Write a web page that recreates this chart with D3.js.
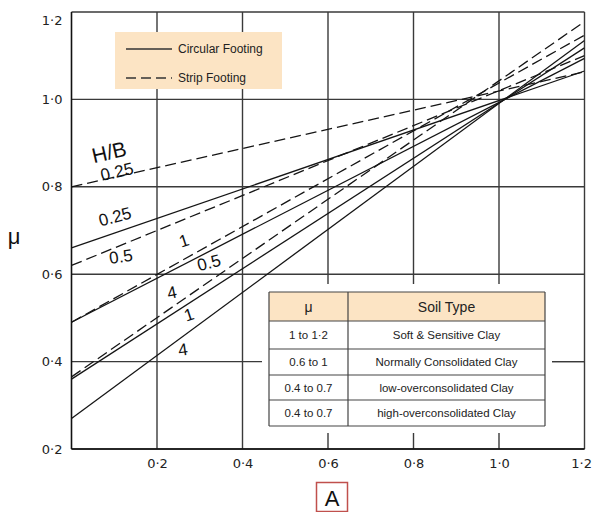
<!DOCTYPE html>
<html>
<head>
<meta charset="utf-8">
<script src="https://cdn.jsdelivr.net/npm/d3@7/dist/d3.min.js"></script>
<style>
  html, body { margin: 0; padding: 0; background: #fff; }
  svg { display: block; font-family: "Liberation Sans", Arial, sans-serif; }
</style>
</head>
<body>
<svg id="chart" width="592" height="512"></svg>
<script>
// Settlement correction factor μ against pore-pressure coefficient A
const aEnds = [0, 1.2];                       // A at the two ends of every line
const hbRatios = ["0.25", "0.5", "1", "4"];   // H/B values
const circularMu = [                          // μ at A = 0 and A = 1.2
  [0.66, 1.065],
  [0.49, 1.094],
  [0.36, 1.118],
  [0.27, 1.135]
];
const stripMu = [
  [0.80, 1.063],
  [0.62, 1.100],
  [0.49, 1.147],
  [0.365, 1.178]
];
const xTicks = [0.2, 0.4, 0.6, 0.8, 1.0, 1.2];
const yTicks = [0.2, 0.4, 0.6, 0.8, 1.0, 1.2];
const tickText = v => v.toFixed(1).replace(".", "·");

const soilMu = ["1 to 1·2", "0.6 to 1", "0.4 to 0.7", "0.4 to 0.7"];
const soilType = ["Soft & Sensitive Clay", "Normally Consolidated Clay",
                  "low-overconsolidated Clay", "high-overconsolidated Clay"];

const svg = d3.select("#chart");
const x = d3.scaleLinear().domain([0, 1.2]).range([71.5, 584.5]);
const y = d3.scaleLinear().domain([0.2, 1.2]).range([449, 12]);

const gridColor = "#3a3a3a";

// grid
const grid = svg.append("g").attr("stroke", gridColor).attr("stroke-width", 1.4);
grid.selectAll("line.v").data(xTicks).join("line")
  .attr("x1", d => x(d)).attr("x2", d => x(d))
  .attr("y1", y(0.2)).attr("y2", y(1.2));
grid.selectAll("line.h").data(yTicks).join("line")
  .attr("x1", x(0)).attr("x2", x(1.2))
  .attr("y1", d => y(d)).attr("y2", d => y(d));
grid.append("line").attr("x1", x(0)).attr("x2", x(0)).attr("y1", y(0.2)).attr("y2", y(1.2))
  .attr("stroke", "#111").attr("stroke-width", 1.6);
grid.append("line").attr("x1", x(0)).attr("x2", x(1.2)).attr("y1", y(0.2)).attr("y2", y(0.2))
  .attr("stroke", "#111").attr("stroke-width", 1.6);

// axes (labels only)
const xAxis = svg.append("g").attr("transform", `translate(0,${y(0.2)})`)
  .call(d3.axisBottom(x).tickValues(xTicks).tickSize(0).tickPadding(10).tickFormat(tickText));
const yAxis = svg.append("g").attr("transform", `translate(${x(0)},0)`)
  .call(d3.axisLeft(y).tickValues(yTicks).tickSize(0).tickPadding(9).tickFormat(tickText));
[xAxis, yAxis].forEach(g => {
  g.select(".domain").remove();
  g.selectAll("text").attr("fill", "#222")
    .attr("font-family", "'DejaVu Sans', sans-serif").attr("font-size", 13);
});
yAxis.selectAll(".tick").filter(d => d === 1.2).select("text").attr("dy", "0.95em");
// keep the last x label inside the page
xAxis.selectAll(".tick").filter(d => d === 1.2).select("text")
  .attr("text-anchor", "end").attr("x", 7);

// lines
const defs = svg.append("defs");
defs.append("clipPath").attr("id", "plot").append("rect")
  .attr("x", x(0)).attr("y", y(1.2)).attr("width", x(1.2) - x(0)).attr("height", y(0.2) - y(1.2));
const line = d3.line().x(d => x(d[0])).y(d => y(d[1]));
const lines = svg.append("g").attr("clip-path", "url(#plot)").attr("fill", "none")
  .attr("stroke", "#151515").attr("stroke-width", 1.3);
lines.selectAll("path.c").data(circularMu).join("path")
  .attr("d", d => line(aEnds.map((a, i) => [a, d[i]])));
lines.selectAll("path.s").data(stripMu).join("path")
  .attr("stroke-dasharray", "11,5")
  .attr("d", d => line(aEnds.map((a, i) => [a, d[i]])));

// legend
const lg = svg.append("g");
lg.append("rect").attr("x", 115).attr("y", 32).attr("width", 167).attr("height", 57).attr("fill", "#fce4c4");
lg.append("line").attr("x1", 126).attr("x2", 172).attr("y1", 49).attr("y2", 49)
  .attr("stroke", "#333").attr("stroke-width", 1.3);
lg.append("line").attr("x1", 126).attr("x2", 172).attr("y1", 78).attr("y2", 78)
  .attr("stroke", "#333").attr("stroke-width", 1.3).attr("stroke-dasharray", "10,5");
lg.append("text").attr("x", 178).attr("y", 53).attr("font-size", 12).attr("fill", "#222").text("Circular Footing");
lg.append("text").attr("x", 178).attr("y", 82).attr("font-size", 12).attr("fill", "#222").text("Strip Footing");

// H/B labels along the lines
const labels = [
  { t: "H/B", cx: 109, cy: 152, r: -13, s: 21 },
  { t: hbRatios[0], cx: 117, cy: 172, r: -13, s: 17 },
  { t: hbRatios[0], cx: 115, cy: 217, r: -15, s: 17 },
  { t: hbRatios[1], cx: 121, cy: 257, r: -8, s: 17 },
  { t: hbRatios[2], cx: 184, cy: 241, r: -18, s: 17 },
  { t: hbRatios[1], cx: 209, cy: 263, r: -15, s: 17 },
  { t: hbRatios[3], cx: 172, cy: 293, r: -12, s: 17 },
  { t: hbRatios[2], cx: 189, cy: 315, r: -18, s: 17 },
  { t: hbRatios[3], cx: 183, cy: 350, r: -8, s: 17 }
];
svg.append("g").selectAll("text").data(labels).join("text")
  .attr("transform", d => `translate(${d.cx},${d.cy}) rotate(${d.r})`)
  .attr("text-anchor", "middle").attr("dominant-baseline", "central")
  .attr("font-size", d => d.s).attr("fill", "#111").text(d => d.t);

// soil table
const tb = svg.append("g");
tb.append("rect").attr("x", 262).attr("y", 284).attr("width", 290).attr("height", 149).attr("fill", "#fff");
// grid stub to the right of the table
tb.append("line").attr("x1", 552).attr("x2", x(1.2)).attr("y1", y(0.4)).attr("y2", y(0.4))
  .attr("stroke", gridColor).attr("stroke-width", 1.4);
const tx0 = 269, tx1 = 348, tx2 = 545;
const rowY = [292, 321, 349, 375, 400, 426];
tb.append("rect").attr("x", tx0).attr("y", rowY[0]).attr("width", tx2 - tx0).attr("height", rowY[1] - rowY[0])
  .attr("fill", "#fce4c4");
tb.selectAll("line.r").data(rowY).join("line")
  .attr("x1", tx0).attr("x2", tx2).attr("y1", d => d).attr("y2", d => d)
  .attr("stroke", "#444").attr("stroke-width", 1.2);
tb.selectAll("line.c").data([tx0, tx1, tx2]).join("line")
  .attr("x1", d => d).attr("x2", d => d).attr("y1", rowY[0]).attr("y2", rowY[5])
  .attr("stroke", "#444").attr("stroke-width", 1.2);
tb.append("text").attr("x", (tx0 + tx1) / 2).attr("y", (rowY[0] + rowY[1]) / 2)
  .attr("text-anchor", "middle").attr("dominant-baseline", "central").attr("font-size", 14).attr("fill", "#222").text("μ");
tb.append("text").attr("x", (tx1 + tx2) / 2).attr("y", (rowY[0] + rowY[1]) / 2)
  .attr("text-anchor", "middle").attr("dominant-baseline", "central").attr("font-size", 14).attr("fill", "#222").text("Soil Type");
soilMu.forEach((m, i) => {
  const cy = (rowY[i + 1] + rowY[i + 2]) / 2;
  tb.append("text").attr("x", (tx0 + tx1) / 2).attr("y", cy).attr("text-anchor", "middle")
    .attr("dominant-baseline", "central").attr("font-size", 11.5).attr("fill", "#222").text(m);
  tb.append("text").attr("x", (tx1 + tx2) / 2).attr("y", cy).attr("text-anchor", "middle")
    .attr("dominant-baseline", "central").attr("font-size", 11.5).attr("fill", "#222").text(soilType[i]);
});

// axis titles
svg.append("text").attr("x", 14).attr("y", 236).attr("text-anchor", "middle")
  .attr("dominant-baseline", "central").attr("font-size", 22).attr("fill", "#111").text("μ");
svg.append("rect").attr("x", 316.5).attr("y", 482.5).attr("width", 31).attr("height", 29)
  .attr("fill", "#fff").attr("stroke", "#c0504d").attr("stroke-width", 1.5);
svg.append("text").attr("x", 332).attr("y", 498).attr("text-anchor", "middle")
  .attr("dominant-baseline", "central").attr("font-size", 22).attr("fill", "#111").text("A");
</script>
</body>
</html>
